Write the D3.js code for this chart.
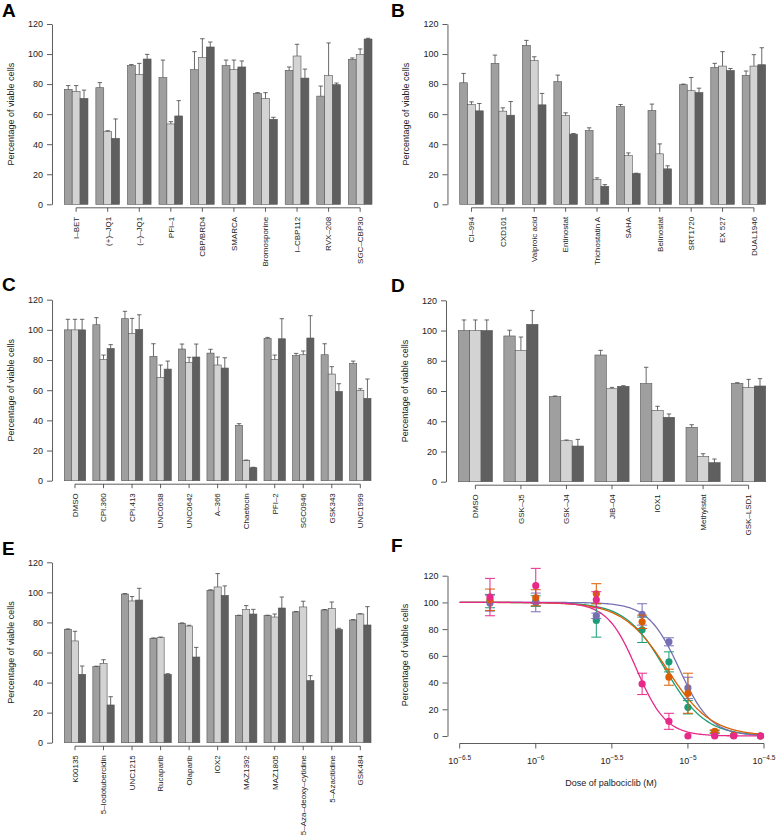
<!DOCTYPE html>
<html><head><meta charset="utf-8">
<script src="https://cdn.jsdelivr.net/npm/d3@7"></script>
<style>body{margin:0;background:#fff}svg{display:block}</style>
</head><body>
<svg id="fig" width="778" height="836"></svg>
<script>
// ---------------- DATA ----------------
const yTickValues = [0, 20, 40, 60, 80, 100, 120];
const yTitle = "Percentage of viable cells";

// Panel A
const catsA = ["I–BET","(+)–JQ1","(–)–JQ1","PFI–1","CBP/BRD4","SMARCA","Bromosporine","I–CBP112","RVX–208","SGC–CBP30"];
const valsA1 = [76.5, 77.6, 92.3, 84.3, 89.6, 92.3, 73.9, 89.2, 72, 96.5];
const errA1  = [2.5, 3.4, 0.7, 11.7, 12, 3.7, 0.4, 2.2, 6.7, 0.9];
const valsA2 = [75, 48.4, 86.3, 53.5, 97.6, 89.6, 70.3, 98.7, 85.6, 99.8];
const errA2  = [4, 0.6, 7.5, 1.5, 12.6, 6.4, 4, 7.8, 21.8, 3.6];
const valsA3 = [70.5, 43.9, 96.7, 58.8, 104.7, 91.4, 56.6, 84, 79.6, 110];
const errA3  = [5.5, 12.9, 3.1, 10.2, 3.3, 4, 1.3, 6, 1.1, 0.5];

// Panel B
const catsB = ["CI–994","CXD101","Valproic acid","Entinostat","Trichostatin A","SAHA","Belinostat","SRT1720","EX 527","DUAL1946"];
const valsB1 = [80.9, 93.8, 105.8, 81.6, 49.1, 65.1, 62.4, 79.6, 91.1, 85.8];
const errB1  = [6.2, 5.5, 3.3, 4.4, 1.8, 1.3, 4.3, 0.4, 2.7, 2.9];
const valsB2 = [66.4, 62, 95.6, 59.1, 16.4, 32.4, 33.6, 75.6, 92, 92];
const errB2  = [1.8, 2.2, 2.6, 1.8, 1.2, 1.8, 6.6, 8.8, 9.6, 7.6];
const valsB3 = [62.2, 59.3, 66.2, 46.7, 12, 20.4, 23.6, 74.4, 89.1, 92.9];
const errB3  = [4.9, 9.1, 7.6, 0.4, 1.1, 0.3, 2, 2.9, 1.3, 11.3];

// Panel C
const catsC = ["DMSO","CPI.360","CPI.413","UNC0638","UNC0642","A–366","Chaetocin","PFI–2","SGC0946","GSK343","UNC1999"];
const valsC1 = [100, 103.4, 107.4, 82.4, 87.3, 84.6, 36.7, 94.4, 82.9, 83.5, 77.6];
const errC1  = [7, 4.7, 4.9, 8.4, 3.3, 2.5, 1.1, 0.6, 1.5, 7.3, 1.7];
const valsC2 = [100, 80.4, 97.5, 68.5, 78.5, 76.7, 13.5, 80.4, 83.5, 70.7, 59.9];
const errC2  = [7, 2.9, 10.1, 8.2, 3.3, 5.3, 0.2, 2.9, 2.5, 4.9, 1.1];
const valsC3 = [100, 87.7, 100.3, 74, 82, 74.7, 8.6, 94.1, 94.6, 59.2, 54.6];
const errC3  = [7, 2.5, 9.7, 5.3, 8.6, 6.8, 0.3, 13.3, 14.8, 5.1, 12.8];

// Panel D
const catsD = ["DMSO","GSK–J5","GSK–J4","JIB–04","IOX1","Methylstat","GSK–LSD1"];
const valsD1 = [100, 96.4, 56.3, 83.8, 64.9, 36, 65.1];
const errD1  = [7, 3.8, 0.4, 3.1, 10.8, 1.7, 0.4];
const valsD2 = [100, 86.9, 27.1, 61.5, 47.2, 16.8, 62.4];
const errD2  = [7, 8.8, 0.5, 0.9, 2.7, 1.7, 5.3];
const valsD3 = [100, 104.1, 23.6, 63.1, 42.6, 12.6, 63.3];
const errD3  = [7, 9.1, 4.4, 0.4, 2.2, 2.4, 4.9];

// Panel E
const catsE = ["K00135","5–Iodotubercidin","UNC1215","Rucaparib","Olaparib","IOX2","MAZ1392","MAZ1805","5–Aza–deoxy–cytidine","5–Azacitidine","GSK484"];
const valsE1 = [75.4, 50.6, 98.9, 69.4, 79.4, 101.4, 84.5, 84.5, 87, 88.3, 81.6];
const errE1  = [0.3, 0.3, 0.3, 0.3, 0.3, 0.3, 0.3, 0.3, 0.3, 0.3, 0.3];
const valsE2 = [67.7, 52.8, 94.3, 69.9, 77.6, 103.6, 88.7, 83.6, 90.3, 89.4, 85.6];
const errE2  = [6.4, 2.4, 2.9, 0.4, 0.5, 8.9, 2.5, 2, 3.8, 4.2, 0.2];
const valsE3 = [45.5, 25.1, 94.9, 45.5, 57, 98, 85.6, 89.6, 41.3, 75.4, 78.3];
const errE3  = [5.5, 5.5, 7.8, 0.4, 6.4, 6.3, 3.1, 7.3, 3.3, 0.7, 12.2];

// Panel F (dose in µM)
const dosesF = [0.5, 1, 2.5, 5, 7.5, 10, 15, 20, 30];
const greenF  = [101, 101, 86.5, 79.5, 55.5, 21.5, 3, 0.5, 0];
const greenErr  = [5, 4, 12.5, 9.5, 7.5, 5, 1, 0.5, 0.3];
const orangeF = [102, 103.5, 106.5, 85.5, 44, 32, 3.5, 0.5, 0];
const orangeErr = [8, 6, 7.5, 5, 6, 15, 1, 0.5, 0.3];
const purpleF = [99.5, 100, 90, 91, 70.5, 36, 1, 0.5, 0];
const purpleErr = [6, 7, 2, 8, 3, 8, 0.5, 0.5, 0.3];
const pinkF   = [104, 112.5, 102, 39, 11, 0, 0, 0, 0];
const pinkErr   = [14, 13, 6, 8, 6, 0.3, 0.3, 0.3, 0.3];
// fitted log-logistic curves (IC50 in µM, Hill slope)
const fitIC50 = [7.1, 7.3, 8.8, 4.6];
const fitHill = [3.3, 3.0, 4.2, 4.5];
const xTickExp = [-6.5, -6, -5.5, -5, -4.5];
const xTickLab = ["−6.5", "−6", "−5.5", "−5", "−4.5"];

// ---------------- DRAWING ----------------
const FONT = "'Liberation Sans', Arial, Helvetica, sans-serif";
const svg = d3.select("#fig");
svg.append("rect").attr("width", 778).attr("height", 836).attr("fill", "#fff");
const barFills = ["#9f9f9f", "#d3d3d3", "#5f5f5f"];
const axisCol = "#333";

function panelLetter(t, x, y) {
  svg.append("text").attr("x", x).attr("y", y).text(t)
    .attr("font-family", FONT).attr("font-weight", "bold").attr("font-size", 19).attr("fill", "#000");
}

function yAxisTitle(g, x, y) {
  g.append("text").attr("transform", `translate(${x},${y}) rotate(-90)`)
    .attr("text-anchor", "middle").attr("font-family", FONT).attr("font-size", 9).attr("fill", "#222")
    .text(yTitle);
}

function drawYAxis(g, y, axisX) {
  const ax = g.append("g").attr("transform", `translate(${axisX},0)`)
    .call(d3.axisLeft(y).tickValues(yTickValues).tickSize(5).tickSizeOuter(0).tickPadding(4));
  ax.selectAll("path,line").attr("stroke", axisCol).attr("stroke-width", 0.8);
  ax.selectAll("text").attr("font-family", FONT).attr("font-size", 9).attr("fill", "#222");
}

function barPanel(L, cats, v1, v2, v3, e1, e2, e3) {
  const g = svg.append("g");
  const n = cats.length;
  const units = 4 * n - 1;
  const x = d3.scaleLinear().domain([1, 1 + units]).range([L.left, L.right]);
  const y = d3.scaleLinear().domain([0, 120]).range([L.y0, L.y120]);
  const axisX = x(1 - 0.04 * units);
  const series = [v1, v2, v3], errs = [e1, e2, e3];
  const bars = [];
  cats.forEach((c, i) => series.forEach((s, j) => bars.push({i, j, v: s[i], e: errs[j][i]})));
  g.selectAll("rect.bar").data(bars).join("rect")
    .attr("x", d => x(1 + 4 * d.i + d.j)).attr("width", d => x(2) - x(1))
    .attr("y", d => y(d.v)).attr("height", d => y(0) - y(d.v))
    .attr("fill", d => barFills[d.j]).attr("stroke", "#555").attr("stroke-width", 0.6);
  const eg = g.append("g").attr("stroke", "#444").attr("stroke-width", 0.8);
  bars.forEach(d => {
    const cx = x(1.5 + 4 * d.i + d.j);
    eg.append("line").attr("x1", cx).attr("x2", cx).attr("y1", y(d.v)).attr("y2", y(d.v + d.e));
    eg.append("line").attr("x1", cx - 2.2).attr("x2", cx + 2.2).attr("y1", y(d.v + d.e)).attr("y2", y(d.v + d.e));
  });
  drawYAxis(g, y, axisX);
  // x axis
  const centers = cats.map((c, i) => x(2.5 + 4 * i));
  const ay = L.y0 + 3.5;
  g.append("line").attr("x1", centers[0]).attr("x2", centers[n - 1]).attr("y1", ay).attr("y2", ay)
    .attr("stroke", axisCol).attr("stroke-width", 0.8);
  centers.forEach((cx, i) => {
    g.append("line").attr("x1", cx).attr("x2", cx).attr("y1", ay).attr("y2", ay + 4)
      .attr("stroke", axisCol).attr("stroke-width", 0.8);
    g.append("text").attr("transform", `translate(${cx},${ay + 9}) rotate(-90)`)
      .attr("text-anchor", "end").attr("dy", "0.35em")
      .attr("font-family", FONT).attr("font-size", 8).attr("fill", "#222").text(cats[i]);
  });
  yAxisTitle(g, axisX - 38, (L.y0 + L.y120) / 2);
}

barPanel({left: 64.3, right: 372, y0: 204.3, y120: 24}, catsA, valsA1, valsA2, valsA3, errA1, errA2, errA3);
barPanel({left: 459.7, right: 765.7, y0: 204.3, y120: 24}, catsB, valsB1, valsB2, valsB3, errB1, errB2, errB3);
barPanel({left: 64.3, right: 371, y0: 480.7, y120: 299.7}, catsC, valsC1, valsC2, valsC3, errC1, errC2, errC3);
barPanel({left: 458.3, right: 765.7, y0: 481.7, y120: 300.3}, catsD, valsD1, valsD2, valsD3, errD1, errD2, errD3);
barPanel({left: 64.3, right: 371, y0: 742.7, y120: 562.3}, catsE, valsE1, valsE2, valsE3, errE1, errE2, errE3);

panelLetter("A", 2, 17);
panelLetter("B", 391, 17);
panelLetter("C", 2, 291);
panelLetter("D", 391, 292);
panelLetter("E", 2, 555);
panelLetter("F", 391, 552);

// ---------- Panel F ----------
(function () {
  const g = svg.append("g");
  const x = d3.scaleLinear().domain([-6.5, -4.5]).range([459.7, 764]);
  const y = d3.scaleLinear().domain([0, 120]).range([736, 575.7]);
  const colors = ["#1B9E77", "#D95F02", "#7570B3", "#E7298A"];
  const vals = [greenF, orangeF, purpleF, pinkF];
  const errs = [greenErr, orangeErr, purpleErr, pinkErr];
  // curves
  const grid = d3.range(0, 201).map(k => -6.5 + k * 0.01);
  const line = d3.line().x(d => x(d[0])).y(d => y(d[1])).curve(d3.curveLinear);
  const curveOrder = [0, 2, 1, 3];
  curveOrder.forEach(s => {
    const pts = grid.map(lx => {
      const dose = Math.pow(10, lx) * 1e6;
      return [lx, 100 / (1 + Math.pow(dose / fitIC50[s], fitHill[s]))];
    });
    g.append("path").attr("d", line(pts)).attr("fill", "none")
      .attr("stroke", colors[s]).attr("stroke-width", 1.3);
  });
  // error bars & points
  [0, 2, 1, 3].forEach(s => {
    const sg = g.append("g");
    dosesF.forEach((dose, i) => {
      const lx = Math.log10(dose * 1e-6);
      const cx = x(lx), v = vals[s][i], e = errs[s][i];
      if (e > 0.6) {
        sg.append("line").attr("x1", cx).attr("x2", cx).attr("y1", y(v - e)).attr("y2", y(v + e))
          .attr("stroke", colors[s]).attr("stroke-width", 1);
        [v - e, v + e].forEach(yy => sg.append("line").attr("x1", cx - 5).attr("x2", cx + 5)
          .attr("y1", y(yy)).attr("y2", y(yy)).attr("stroke", colors[s]).attr("stroke-width", 1));
      }
      sg.append("circle").attr("cx", cx).attr("cy", y(v)).attr("r", 3.6).attr("fill", colors[s]);
    });
  });
  // y axis
  drawYAxis(g, y, 447.5);
  yAxisTitle(g, 407.5, 655);
  // x axis
  const ay = 743.5;
  g.append("line").attr("x1", x(-6.5)).attr("x2", x(-4.5)).attr("y1", ay).attr("y2", ay)
    .attr("stroke", axisCol).attr("stroke-width", 0.8);
  xTickExp.forEach((t, i) => {
    g.append("line").attr("x1", x(t)).attr("x2", x(t)).attr("y1", ay).attr("y2", ay + 5)
      .attr("stroke", axisCol).attr("stroke-width", 0.8);
    const tx = g.append("text").attr("x", x(t)).attr("y", 764).attr("text-anchor", "middle")
      .attr("font-family", FONT).attr("font-size", 9).attr("fill", "#222");
    tx.append("tspan").text("10");
    tx.append("tspan").attr("dy", -4.5).attr("font-size", 6.5).text(xTickLab[i]);
  });
  g.append("text").attr("x", 611).attr("y", 786).attr("text-anchor", "middle")
    .attr("font-family", FONT).attr("font-size", 9).attr("fill", "#222").text("Dose of palbociclib (M)");
})();
</script>
</body></html>
